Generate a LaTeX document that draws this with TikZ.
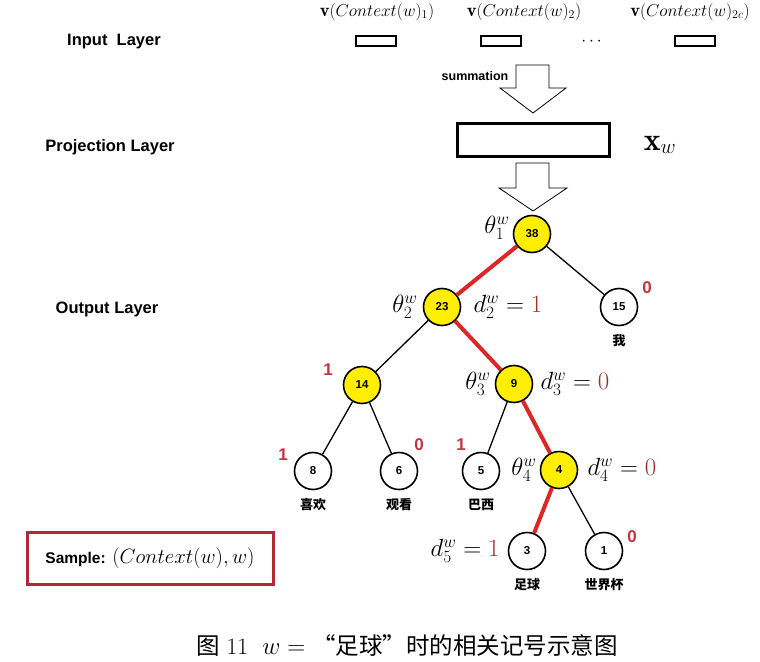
\documentclass[tikz,border=0pt]{standalone}
\usepackage{amsmath}
\usepackage{fontspec}
\newfontfamily\lblfont{Liberation Sans}
\newfontfamily\cjkfont{Noto Sans CJK SC}
\usetikzlibrary{positioning}
\definecolor{pathred}{RGB}{222,38,38}
\definecolor{bitred}{RGB}{196,52,62}
\definecolor{valred}{RGB}{165,45,45}
\definecolor{boxred}{RGB}{178,40,55}
\definecolor{nodeyellow}{RGB}{255,238,0}

\begin{document}
\begin{tikzpicture}[x=1pt,y=-1pt,
  layer/.style={font=\lblfont\bfseries\fontsize{16.5}{19}\selectfont},
  inbox/.style={draw,line width=2.6pt,minimum width=40pt,minimum height=10pt,inner sep=0pt},
  hollow/.style={draw,line width=0.8pt,fill=white},
  inner/.style={circle,draw,line width=1.6pt,fill=nodeyellow,minimum size=37pt,inner sep=0pt,
    font=\lblfont\bfseries\fontsize{11.5}{13}\selectfont},
  leaf/.style={inner,fill=white},
  edge/.style={line width=1.3pt},
  pathedge/.style={line width=4pt,pathred},
  bit/.style={font=\lblfont\bfseries\fontsize{17}{20}\selectfont,bitred},
  word/.style={font=\cjkfont\bfseries\fontsize{13}{15}\selectfont},
  ctxlabel/.style={font=\fontsize{18.5}{22}\selectfont},
  mlabel/.style={font=\fontsize{24}{28}\selectfont,inner sep=1pt}]
\useasboundingbox (0,0) rectangle (760,661);

% input layer
\node[layer] (inlayer) at (114,42) {Input\ \ Layer};
\node[ctxlabel] (ctx1) at (377,12) {$\mathbf{v}(Context(w)_1)$};
\node[ctxlabel] (ctx2) at (524,12) {$\mathbf{v}(Context(w)_2)$};
\node[ctxlabel] (ctx3) at (690,12) {$\mathbf{v}(Context(w)_{2c})$};
\node[inbox] (in1) at (376,41) {};
\node[inbox] (in2) at (501,41) {};
\node[inbox] (in3) at (695,41) {};
\node[ctxlabel] (dots) at (593,42) {$\cdots$};

% summation arrow
\draw[hollow] (516,65) -- (549,65) -- (549,88) -- (566,88) -- (533,113) -- (500,88) -- (516,88) -- cycle;
\node[font=\lblfont\bfseries\fontsize{12.5}{15}\selectfont] (summ) at (475,76) {summation};

% projection layer
\node[layer] (projlayer) at (110,147) {Projection\ Layer};
\node[draw,line width=3pt,minimum width=152pt,minimum height=33pt,inner sep=0pt] (proj) at (533.5,139.5) {};
\node[font=\fontsize{32}{36}\selectfont] (xw) at (660,145) {$\mathbf{x}_w$};
\draw[hollow] (516,163) -- (549,163) -- (549,188) -- (567,188) -- (533,211) -- (499,188) -- (516,188) -- cycle;

% output layer: Huffman tree
\node[layer] (outlayer) at (107,309) {Output\ Layer};
\node[inner] (n38) at (532,234) {38};
\node[inner] (n23) at (442,307) {23};
\node[leaf]  (n15) at (619,307) {15};
\node[inner] (n14) at (362,385) {14};
\node[inner] (n9)  at (514,384) {9};
\node[leaf]  (n8)  at (313,471) {8};
\node[leaf]  (n6)  at (399,471) {6};
\node[leaf]  (n5)  at (481,471) {5};
\node[inner] (n4)  at (559,470) {4};
\node[leaf]  (n3)  at (527,551) {3};
\node[leaf]  (n1)  at (604,551) {1};

\draw[pathedge] (n38) -- (n23);
\draw[pathedge] (n23) -- (n9);
\draw[pathedge] (n9) -- (n4);
\draw[pathedge] (n4) -- (n3);
\draw[edge] (n38) -- (n15);
\draw[edge] (n23) -- (n14);
\draw[edge] (n14) -- (n8);
\draw[edge] (n14) -- (n6);
\draw[edge] (n9) -- (n5);
\draw[edge] (n4) -- (n1);

% parameters and codes along the path
\node[mlabel,left=2pt of n38,yshift=6pt] (t1) {$\theta_1^w$};
\node[mlabel,left=4pt of n23] (t2) {$\theta_2^w$};
\node[mlabel,right=11pt of n23] (c2) {$d_2^w=\textcolor{valred}{1}$};
\node[mlabel,left=3pt of n9] (t3) {$\theta_3^w$};
\node[mlabel,right=6pt of n9] (c3) {$d_3^w=\textcolor{valred}{0}$};
\node[mlabel,left=2pt of n4] (t4) {$\theta_4^w$};
\node[mlabel,right=8pt of n4] (c4) {$d_4^w=\textcolor{valred}{0}$};
\node[mlabel,left=7pt of n3] (c5) {$d_5^w=\textcolor{valred}{1}$};

% Huffman codes of the other branches
\node[bit] (b15) at (647,288) {0};
\node[bit] (b14) at (328,370) {1};
\node[bit] (b8)  at (283,455) {1};
\node[bit] (b6)  at (419,445) {0};
\node[bit] (b5)  at (461,445) {1};
\node[bit] (b1)  at (632,537) {0};

% words at the leaves
\node[word,below=5pt of n15] (w15) {我};
\node[word,below=5pt of n8] (w8) {喜欢};
\node[word,below=5pt of n6] (w6) {观看};
\node[word,below=5pt of n5] (w5) {巴西};
\node[word,below=5pt of n3] (w3) {足球};
\node[word,below=5pt of n1] (w1) {世界杯};

% sample box and caption
\node[draw=boxred,line width=3pt,minimum width=246pt,minimum height=52pt] (sample) at (150,558)
  {{\lblfont\bfseries\fontsize{15.5}{18}\selectfont Sample:}\ \ {\fontsize{19.5}{23}\selectfont$(Context(w),w)$}};
\node[font=\fontsize{23.5}{27}\selectfont] (caption) at (407,645)
  {{\cjkfont 图}~11~~$w=$~{\cjkfont “足球”时的相关记号示意图}};
\end{tikzpicture}
\end{document}
